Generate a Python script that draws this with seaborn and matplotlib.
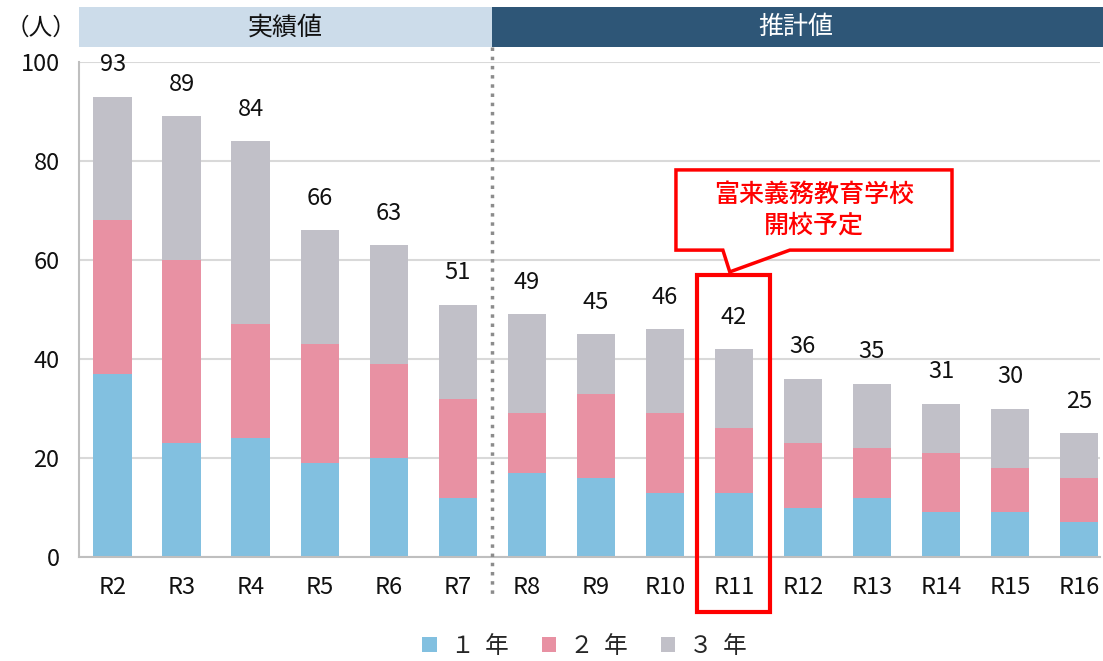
import numpy as np
import pandas as pd
import matplotlib
matplotlib.use("Agg")
import matplotlib.pyplot as plt
import matplotlib.transforms as mtransforms
from matplotlib.patches import Rectangle, Polygon, Patch
import seaborn as sns

# data
years = ["R2", "R3", "R4", "R5", "R6", "R7", "R8", "R9", "R10",
         "R11", "R12", "R13", "R14", "R15", "R16"]
grade1 = [37, 23, 24, 19, 20, 12, 17, 16, 13, 13, 10, 12, 9, 9, 7]
grade2 = [31, 37, 23, 24, 19, 20, 12, 17, 16, 13, 13, 10, 12, 9, 9]
grade3 = [25, 29, 37, 23, 24, 19, 20, 12, 17, 16, 13, 13, 10, 12, 9]
legend_labels = ["１  年", "２  年", "３  年"]
actual_label = "実績値"
forecast_label = "推計値"
first_forecast = "R8"
opening_year = "R11"
note = "富来義務教育学校\n開校予定"

COLORS = ["#82c0e0", "#e891a3", "#c1c0c8"]
RED = "#ff0000"
INK = "#111111"

sns.set_theme(style="white")
plt.rcParams["font.family"] = ["Noto Sans CJK JP", "DejaVu Sans"]

df = pd.DataFrame({"year": years, "g1": grade1, "g2": grade2, "g3": grade3})
df["c1"] = df["g1"]
df["c2"] = df["g1"] + df["g2"]
df["c3"] = df["c2"] + df["g3"]

fig = plt.figure(figsize=(11.03, 6.61), dpi=100)
ax = fig.add_axes([0.0716, 0.1573, 0.9254, 0.7489])

# stacked bars: draw cumulative totals, largest first
for col, color in zip(["c3", "c2", "c1"], COLORS[::-1]):
    sns.barplot(data=df, x="year", y=col, color=color, saturation=1,
                width=0.56, edgecolor="none", linewidth=0, ax=ax, zorder=2)

ax.set_xlim(-0.49, 14.3)
ax.set_ylim(0, 100)
ax.set_yticks([0, 20, 40, 60, 80, 100])
ax.set_xlabel("")
ax.set_ylabel("")
ax.yaxis.grid(True, color="#d9d9d9", linewidth=1.5, zorder=0)
ax.set_axisbelow(True)
for s in ["top", "right"]:
    ax.spines[s].set_visible(False)
for s in ["left", "bottom"]:
    ax.spines[s].set_color("#bfbfbf")
    ax.spines[s].set_linewidth(1.5)
ax.tick_params(axis="both", length=0, labelsize=17, colors=INK)
ax.tick_params(axis="y", pad=14)
ax.tick_params(axis="x", pad=14)

# totals above bars
for i, tot in enumerate(df["c3"]):
    ax.annotate(str(tot), (i, tot), xytext=(0, 23), textcoords="offset points",
                ha="center", va="center", fontsize=17, color=INK)

trans = mtransforms.blended_transform_factory(ax.transData, ax.transAxes)
split = years.index(first_forecast) - 0.5
x_left, x_right = ax.get_xlim()

# header bands
ax.add_patch(Rectangle((x_left, 1.03), split - x_left, 0.081, transform=trans,
                       facecolor="#ccdcea", edgecolor="none", clip_on=False))
ax.add_patch(Rectangle((split, 1.03), x_right + 0.1 - split, 0.081, transform=trans,
                       facecolor="#2e5677", edgecolor="none", clip_on=False))
ax.text((x_left + split) / 2, 1.07, actual_label, transform=trans, ha="center",
        va="center", fontsize=18, color=INK)
ax.text((split + x_right) / 2, 1.07, forecast_label, transform=trans, ha="center",
        va="center", fontsize=18, color="white")
fig.text(0.037, 0.958, "（人）", ha="center", va="center", fontsize=17, color=INK)

# dotted divider
ax.plot([split, split], [1.03, -0.08], transform=trans, color="#8c8c8c",
        linestyle=":", linewidth=2.5, clip_on=False, zorder=3)

# highlight of the opening year
k = years.index(opening_year)
ax.add_patch(Rectangle((k - 0.53, -0.111), 1.06, 0.681, transform=trans,
                       facecolor="none", edgecolor=RED, linewidth=3,
                       clip_on=False, zorder=5))

# callout
bx0, bx1 = k - 0.84, k + 3.16
by0, by1 = 0.62, 0.782
callout = Polygon([(bx0, by1), (bx1, by1), (bx1, by0), (k + 0.81, by0),
                   (k - 0.06, 0.576), (k - 0.16, by0), (bx0, by0)],
                  closed=True, transform=trans, facecolor="white",
                  edgecolor=RED, linewidth=2.5, clip_on=False, zorder=6)
ax.add_patch(callout)
ax.text((bx0 + bx1) / 2, (by0 + by1) / 2, note, transform=trans, ha="center",
        va="center", fontsize=18, color=RED, fontweight="medium",
        linespacing=1.25, zorder=7)

# legend
handles = [Patch(facecolor=c, edgecolor="none") for c in COLORS]
fig.legend(handles, legend_labels, loc="center", bbox_to_anchor=(0.53, 0.022),
           ncol=3, frameon=False, fontsize=17, handlelength=0.6, handleheight=0.6,
           handletextpad=0.6, columnspacing=1.4)

fig.savefig("out.png", dpi=100)
